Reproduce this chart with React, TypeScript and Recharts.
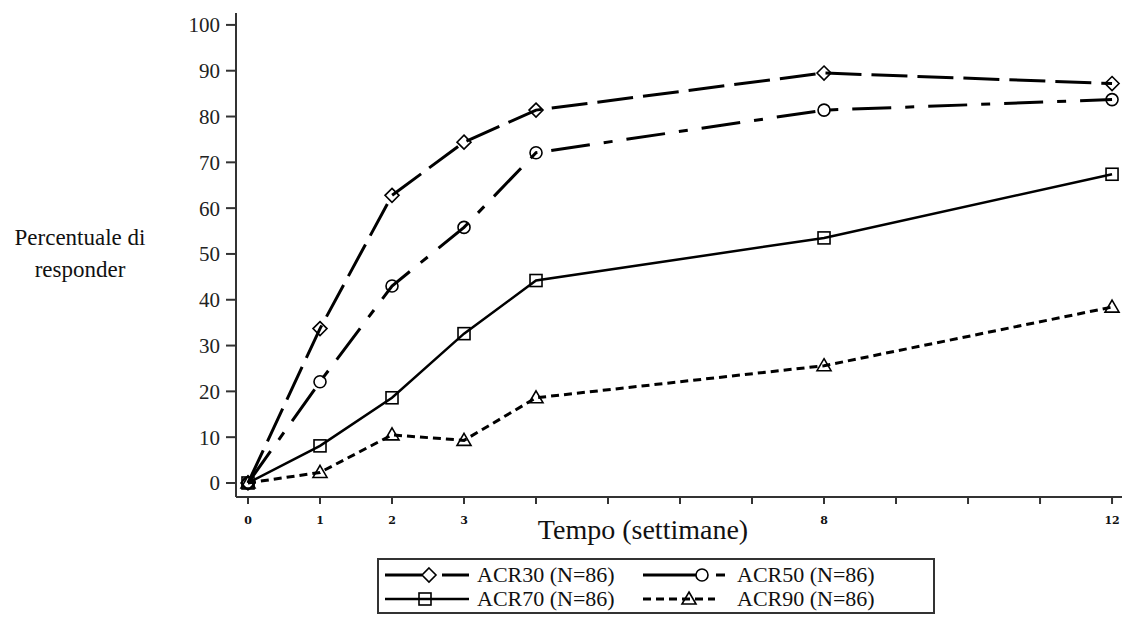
import React from 'react';
import { LineChart, Line, XAxis, YAxis, Legend, Label } from 'recharts';

const weeks = [0, 1, 2, 3, 4, 8, 12];
const acr30 = [0, 33.7, 62.8, 74.4, 81.4, 89.5, 87.2];
const acr50 = [0, 22.1, 43.0, 55.8, 72.1, 81.4, 83.7];
const acr70 = [0, 8.1, 18.6, 32.6, 44.2, 53.5, 67.4];
const acr90 = [0, 2.3, 10.5, 9.3, 18.6, 25.6, 38.4];

const xTicks = [0, 1, 2, 3, 4, 5, 6, 7, 8, 9, 10, 11, 12];
const xTickLabels = ['0', '1', '2', '3', '', '', '', '', '8', '', '', '', '12'];
const yTicks = [0, 10, 20, 30, 40, 50, 60, 70, 80, 90, 100];
const seriesNames = ['ACR30 (N=86)', 'ACR50 (N=86)', 'ACR70 (N=86)', 'ACR90 (N=86)'];
const xTitle = 'Tempo (settimane)';
const yTitle = ['Percentuale di', 'responder'];

const data = weeks.map((w, i) => ({
  week: w,
  acr30: acr30[i],
  acr50: acr50[i],
  acr70: acr70[i],
  acr90: acr90[i],
}));

const SERIF = '"Liberation Serif", "Times New Roman", serif';
const AX = '#333';

type Shape = 'diamond' | 'circle' | 'square' | 'triangle';

const marker = (shape: Shape, cx: number, cy: number, key?: string) => {
  const common = { fill: 'none', stroke: '#000', strokeWidth: 1.6, key };
  if (shape === 'diamond')
    return <path {...common} d={`M${cx},${cy - 7}L${cx + 7},${cy}L${cx},${cy + 7}L${cx - 7},${cy}Z`} />;
  if (shape === 'circle') return <circle {...common} cx={cx} cy={cy} r={6} />;
  if (shape === 'square') return <rect {...common} x={cx - 6} y={cy - 6} width={12} height={12} />;
  return <path {...common} d={`M${cx},${cy - 7}L${cx + 7},${cy + 5}L${cx - 7},${cy + 5}Z`} />;
};

const makeDot = (shape: Shape) => (props: any) => {
  const { cx, cy, index } = props;
  if (cx == null || cy == null) return <g key={`e-${shape}-${index}`} />;
  return marker(shape, cx, cy, `${shape}-${index}`);
};

const series = [
  { key: 'acr30', shape: 'diamond' as Shape, dash: '36 10', width: 3 },
  { key: 'acr50', shape: 'circle' as Shape, dash: '39 14 9 14', width: 3 },
  { key: 'acr70', shape: 'square' as Shape, dash: undefined, width: 2.5 },
  { key: 'acr90', shape: 'triangle' as Shape, dash: '8 5', width: 3 },
];

// legend sample layout: segments [x1,x2], marker x, text x, row
const legendLayout = [
  { segs: [[6, 43], [63, 90]], dash: undefined, mx: 50, tx: 98, row: 0 },
  { segs: [[264, 317], [337, 346]], dash: undefined, mx: 323, tx: 358, row: 0 },
  { segs: [[6, 90]], dash: undefined, mx: 46, tx: 98, row: 1 },
  { segs: [[264, 336]], dash: '8 5', mx: 310, tx: 358, row: 1 },
];

const renderLegend = () => (
  <div
    style={{
      width: 558,
      height: 56,
      border: '2px solid #333',
      background: '#fff',
      boxSizing: 'border-box',
    }}
  >
    <svg width={554} height={52} style={{ display: 'block' }}>
      {series.map((s, i) => {
        const p = legendLayout[i];
        const y = p.row === 0 ? 15 : 39;
        return (
          <g key={s.key}>
            {p.segs.map(([a, b], j) => (
              <line key={j} x1={a} x2={b} y1={y} y2={y} stroke="#000" strokeWidth={s.width} strokeDasharray={p.dash} />
            ))}
            {marker(s.shape, p.mx, y)}
            <text x={p.tx} y={y + 7} fontFamily={SERIF} fontSize={22} fill="#111">
              {seriesNames[i]}
            </text>
          </g>
        );
      })}
    </svg>
  </div>
);

export default function App() {
  return (
    <div style={{ position: 'absolute', left: 0, top: 0, width: 1122, height: 641, overflow: 'hidden', background: '#fff' }}>
      <LineChart width={1140} height={641} data={data} margin={{ top: 13, right: 15, left: 176, bottom: 104 }}>
        <XAxis
          dataKey="week"
          type="number"
          domain={[-0.1667, 12.18]}
          ticks={xTicks}
          allowDataOverflow
          interval={0}
          tickFormatter={(v: number) => xTickLabels[xTicks.indexOf(v)] ?? ''}
          tickSize={7}
          tickMargin={12}
          height={40}
          axisLine={{ stroke: AX, strokeWidth: 2 }}
          tickLine={{ stroke: AX, strokeWidth: 2 }}
          tick={{ fill: '#111', fontSize: 11, fontWeight: 'bold', fontFamily: '"DejaVu Serif", serif' }}
        >
          <Label
            content={() => (
              <text x={643} y={539} textAnchor="middle" fontFamily={SERIF} fontSize={28} fill="#111">
                {xTitle}
              </text>
            )}
          />
        </XAxis>
        <XAxis
          xAxisId="top"
          orientation="top"
          type="number"
          dataKey="week"
          domain={[-0.1667, 12.18]}
          allowDataOverflow
          height={0}
          tick={false}
          tickLine={false}
          axisLine={{ stroke: AX, strokeWidth: 2 }}
        />
        <YAxis
          type="number"
          domain={[-3.06, 102.6]}
          ticks={yTicks}
          allowDataOverflow
          interval={0}
          width={60}
          tickSize={10}
          tickMargin={6}
          axisLine={{ stroke: AX, strokeWidth: 2 }}
          tickLine={{ stroke: AX, strokeWidth: 2 }}
          tick={{ fill: '#222', fontSize: 21, fontFamily: SERIF }}
        >
          <Label
            content={() => (
              <text textAnchor="middle" fontFamily={SERIF} fontSize={23} fill="#111">
                <tspan x={80} y={245}>{yTitle[0]}</tspan>
                <tspan x={80} y={277}>{yTitle[1]}</tspan>
              </text>
            )}
          />
        </YAxis>
        {series.map((s) => (
          <Line
            key={s.key}
            type="linear"
            dataKey={s.key}
            stroke="#000"
            strokeWidth={s.width}
            strokeDasharray={s.dash}
            dot={makeDot(s.shape)}
            activeDot={false}
            isAnimationActive={false}
          />
        ))}
        <Legend
          layout="horizontal"
          verticalAlign="middle"
          align="center"
          content={renderLegend}
          wrapperStyle={{ position: 'absolute', left: 377, top: 558, width: 558, height: 56 }}
        />
      </LineChart>
    </div>
  );
}
